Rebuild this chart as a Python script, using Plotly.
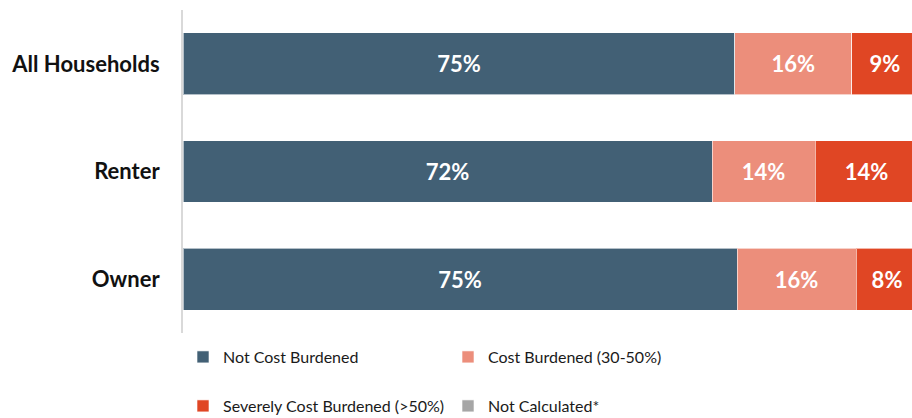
import plotly.graph_objects as go

categories = ["All Households", "Renter", "Owner"]
not_burdened = [75.1, 72.0, 75.4]
burdened = [15.9, 14.0, 16.2]
severe = [9.0, 14.0, 8.4]
not_calculated = [0.0, 0.0, 0.0]

series_names = ["Not Cost Burdened", "Cost Burdened (30-50%)",
                "Severely Cost Burdened (>50%)", "Not Calculated*"]
colors = ["#426075", "#EC8E7B", "#E04624", "#A6A6A6"]
legend_ids = ["legend", "legend", "legend2", "legend2"]

fig = go.Figure()
for name, vals, col, lg in zip(series_names,
                               [not_burdened, burdened, severe, not_calculated],
                               colors, legend_ids):
    fig.add_trace(go.Bar(
        y=categories, x=vals, orientation="h", name=name,
        marker=dict(color=col, line=dict(color="rgba(255,255,255,0.6)", width=1)),
        text=[f"{round(v)}%" if v > 0 else "" for v in vals],
        textposition="inside", insidetextanchor="middle", textangle=0,
        constraintext="none",
        textfont=dict(family="Lato", size=22, color="white", weight="bold"),
        legend=lg, hoverinfo="skip",
    ))

legend_common = dict(orientation="h", x=0.0, xanchor="left", yref="container",
                     yanchor="middle", traceorder="normal",
                     entrywidth=220, entrywidthmode="pixels", itemwidth=30,
                     font=dict(family="Lato", size=16, color="#1a1a1a"),
                     bgcolor="rgba(0,0,0,0)")

fig.update_layout(
    barmode="stack",
    bargap=0.425,
    width=912, height=418,
    margin=dict(l=183, r=0, t=10, b=85),
    paper_bgcolor="white", plot_bgcolor="white",
    showlegend=True,
    xaxis=dict(range=[0, 99.2], visible=False, fixedrange=True),
    yaxis=dict(autorange="reversed", showline=True, linecolor="#D9D9D9",
               linewidth=2, ticks="", showgrid=False, ticklabelstandoff=17,
               fixedrange=True,
               tickfont=dict(family="Lato", size=22, color="#111111", weight="bold")),
    legend=dict(y=1 - 357 / 418, **legend_common),
    legend2=dict(y=1 - 406 / 418, **legend_common),
)

fig.write_html("out.html", config={"displayModeBar": False},
               post_script="document.body.style.margin='0';")
